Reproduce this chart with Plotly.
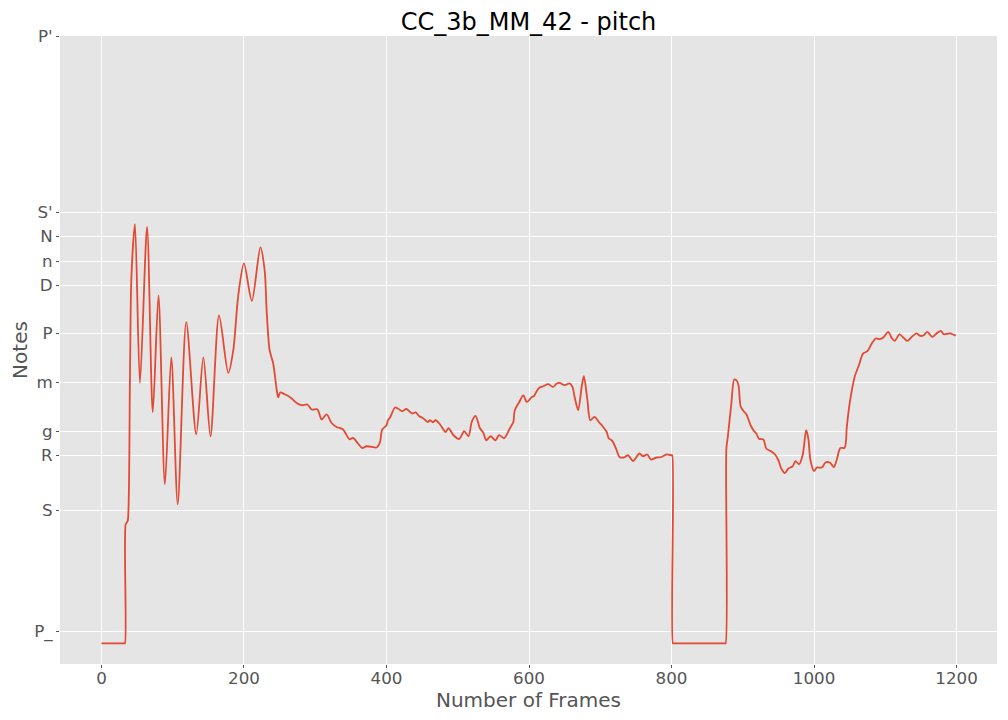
import plotly.graph_objects as go

# pitch contour keypoints (frame index, pitch in cents above S)
frames = [
    0, 32, 33, 34, 36, 37, 40, 42, 47, 54, 64, 72, 80, 89, 98, 107, 119, 133,
    143, 153, 165, 178, 185, 192, 200, 211, 223, 229, 232, 236, 241, 246, 248,
    251, 257, 262, 267, 274, 281, 289, 295, 303, 309, 316, 323, 330, 339, 348,
    353, 360, 366, 372, 386, 388, 391, 394, 400, 402, 405, 412, 416, 422, 428,
    436, 441, 446, 451, 458, 461, 465, 469, 475, 483, 487, 494, 502, 509, 515,
    520, 525, 531, 536, 540, 546, 553, 558, 565, 573, 578, 580, 586, 592, 597,
    604, 607, 611, 615, 620, 627, 634, 639, 643, 650, 657, 661, 664, 669, 674,
    677, 682, 686, 692, 698, 703, 709, 712, 716, 719, 723, 727, 733, 739, 746,
    755, 760, 766, 771, 779, 786, 793, 800, 801, 802, 803, 875, 876, 877, 879,
    884, 888, 891, 894, 897, 901, 905, 911, 915, 919, 923, 929, 933, 939, 945,
    950, 954, 959, 964, 970, 974, 979, 984, 989, 992, 995, 1000, 1004, 1011,
    1016, 1022, 1028, 1032, 1037, 1043, 1046, 1050, 1057, 1063, 1069, 1075,
    1081, 1087, 1092, 1098, 1104, 1109, 1113, 1120, 1126, 1131, 1137, 1144,
    1149, 1154, 1159, 1166, 1172, 1178, 1182, 1191, 1197, 1199,
]
pitch_cents = [
    -531, -531, -531, -54, -46, -40, 534, 934, 1145, 510, 1134, 393, 860, 105,
    612, 25, 753, 305, 612, 297, 780, 550, 641, 861, 988, 838, 1052, 961, 788,
    641, 588, 481, 452, 472, 465, 458, 448, 430, 421, 424, 404, 405, 364, 384,
    350, 334, 324, 285, 290, 268, 250, 257, 252, 257, 274, 324, 341, 361, 372,
    412, 408, 397, 406, 388, 392, 377, 370, 354, 361, 353, 361, 345, 314, 329,
    301, 286, 317, 297, 357, 378, 330, 310, 281, 297, 281, 301, 289, 328, 354,
    401, 432, 460, 434, 454, 458, 478, 492, 497, 505, 494, 508, 510, 501, 508,
    494, 454, 401, 497, 537, 441, 361, 374, 354, 338, 314, 288, 281, 268, 241,
    214, 212, 221, 198, 228, 217, 224, 204, 212, 214, 224, 221, 221, -531,
    -531, -531, -531, 248, 294, 428, 524, 521, 501, 417, 398, 385, 341, 321,
    308, 286, 284, 248, 238, 225, 201, 168, 150, 168, 177, 197, 185, 221, 321,
    288, 201, 158, 172, 172, 192, 192, 174, 204, 250, 251, 334, 428, 534, 581,
    628, 637, 668, 688, 685, 694, 714, 690, 678, 704, 690, 678, 694, 708, 698,
    701, 714, 694, 708, 718, 705, 708, 701, 700,
]

note_labels = ["P_", "S", "R", "g", "m", "P", "D", "n", "N", "S'", "P'"]
note_cents = [-484, 0, 220, 316, 512, 708, 900, 996, 1097, 1192, 1897]

frame_ticks = [0, 200, 400, 600, 800, 1000, 1200]

TITLE = "CC_3b_MM_42 - pitch"
LINE_COLOR = "#E24A33"
TEXT_COLOR = "#555555"

# the page body adds an 8px offset at the top left, so the figure is 8px smaller
FIG_W, FIG_H = 1000, 712


def get_pitch_plot() -> go.Figure:
    fig = go.Figure()

    fig.add_trace(
        go.Scatter(
            x=frames,
            y=pitch_cents,
            mode="lines",
            line=dict(color=LINE_COLOR, width=1.8, shape="spline", smoothing=0.8),
            name="pitch",
        )
    )

    fig.update_layout(
        width=FIG_W,
        height=FIG_H,
        margin=dict(l=52, r=11, t=28, b=56),
        paper_bgcolor="white",
        plot_bgcolor="#E5E5E5",
        font=dict(family="DejaVu Sans", size=16.7, color=TEXT_COLOR),
        showlegend=False,
        title=dict(
            text=TITLE,
            x=0.5,
            xref="paper",
            xanchor="center",
            y=1 - 14 / FIG_H,
            yref="container",
            yanchor="middle",
            font=dict(size=24, color="black"),
        ),
    )

    fig.update_xaxes(
        range=[-58.2, 1256.8],
        tickvals=frame_ticks,
        ticks="outside",
        ticklen=3,
        ticklabelstandoff=-4,
        tickcolor=TEXT_COLOR,
        gridcolor="white",
        gridwidth=1.1,
        zeroline=False,
        showline=False,
        automargin=False,
        title=dict(text="Number of Frames", font=dict(size=20), standoff=0),
    )

    fig.update_yaxes(
        range=[-613.6, 1897.2],
        tickvals=note_cents,
        ticktext=note_labels,
        ticks="outside",
        ticklen=3,
        tickcolor=TEXT_COLOR,
        gridcolor="white",
        gridwidth=1.1,
        zeroline=False,
        showline=False,
        automargin=False,
        title=dict(text="Notes", font=dict(size=20), standoff=6),
    )

    return fig


if __name__ == "__main__":
    fig = get_pitch_plot()
    fig.write_html("out.html")
